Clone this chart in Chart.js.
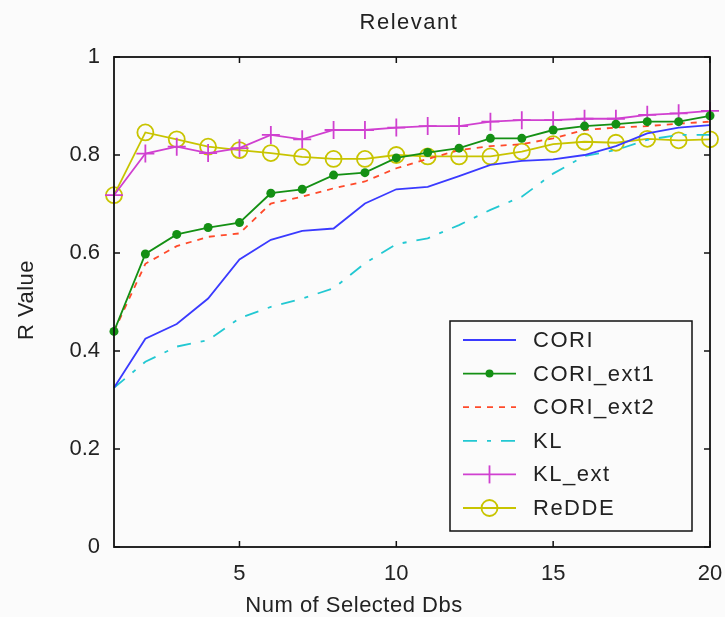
<!DOCTYPE html>
<html>
<head>
<meta charset="utf-8">
<script src="https://cdn.jsdelivr.net/npm/chart.js@4/dist/chart.umd.min.js"></script>
<style>
  html, body { margin: 0; padding: 0; background: #fbfbfb; }
  #wrap { width: 725px; height: 617px; }
</style>
</head>
<body>
<div id="wrap"><canvas id="relChart" width="725" height="617"></canvas></div>
<script>
(function () {
    'use strict';

    // x: number of selected databases
    var numDbs = [1, 2, 3, 4, 5, 6, 7, 8, 9, 10, 11, 12, 13, 14, 15, 16, 17, 18, 19, 20];

    var cori     = [0.325, 0.425, 0.455, 0.507, 0.587, 0.627, 0.645, 0.650, 0.701, 0.730, 0.735, 0.757, 0.780, 0.788, 0.791, 0.800, 0.818, 0.844, 0.856, 0.861];
    var coriExt1 = [0.440, 0.598, 0.638, 0.652, 0.662, 0.722, 0.730, 0.759, 0.764, 0.794, 0.805, 0.814, 0.834, 0.834, 0.851, 0.859, 0.863, 0.868, 0.868, 0.880];
    var coriExt2 = [0.440, 0.578, 0.614, 0.633, 0.640, 0.701, 0.715, 0.732, 0.746, 0.773, 0.792, 0.810, 0.818, 0.822, 0.834, 0.851, 0.856, 0.859, 0.864, 0.868];
    var kl       = [0.325, 0.378, 0.409, 0.422, 0.467, 0.490, 0.507, 0.528, 0.579, 0.618, 0.630, 0.657, 0.688, 0.715, 0.762, 0.798, 0.810, 0.831, 0.841, 0.841];
    var klExt    = [0.718, 0.803, 0.817, 0.804, 0.814, 0.841, 0.832, 0.851, 0.851, 0.856, 0.859, 0.859, 0.868, 0.871, 0.871, 0.874, 0.874, 0.882, 0.885, 0.890];
    var redde    = [0.718, 0.846, 0.832, 0.817, 0.810, 0.804, 0.796, 0.792, 0.792, 0.800, 0.797, 0.797, 0.797, 0.807, 0.822, 0.827, 0.825, 0.833, 0.830, 0.832];

    var xTicks = [5, 10, 15, 20];
    var yTicks = [0, 0.2, 0.4, 0.6, 0.8, 1];

    var FONT = 'Liberation Sans, Arial, sans-serif';

    function pts(ys) {
        return ys.map(function (y, i) { return { x: numDbs[i], y: y }; });
    }

    function series(label, ys, color, extra) {
        var ds = {
            label: label,
            data: pts(ys),
            borderColor: color,
            backgroundColor: color,
            borderWidth: 1.8,
            pointRadius: 0,
            pointHoverRadius: 0,
            tension: 0,
            clip: false
        };
        for (var k in extra) ds[k] = extra[k];
        return ds;
    }

    // frame, inward ticks, titles and legend box like the original figure
    var figurePlugin = {
        id: 'figure',
        beforeDraw: function (chart) {
            var ctx = chart.ctx;
            ctx.save();
            ctx.fillStyle = '#fbfbfb';
            ctx.fillRect(0, 0, chart.width, chart.height);
            ctx.restore();
        },
        afterDraw: function (chart) {
            var ctx = chart.ctx;
            var a = chart.chartArea;
            var xs = chart.scales.x, ys = chart.scales.y;
            ctx.save();
            ctx.strokeStyle = '#111';
            ctx.lineWidth = 1.8;
            ctx.strokeRect(a.left, a.top, a.right - a.left, a.bottom - a.top);

            ctx.lineWidth = 1.5;
            xTicks.forEach(function (v) {
                var px = xs.getPixelForValue(v);
                ctx.beginPath();
                ctx.moveTo(px, a.bottom); ctx.lineTo(px, a.bottom - 6);
                ctx.moveTo(px, a.top); ctx.lineTo(px, a.top + 6);
                ctx.stroke();
            });
            yTicks.forEach(function (v) {
                var py = ys.getPixelForValue(v);
                ctx.beginPath();
                ctx.moveTo(a.left, py); ctx.lineTo(a.left + 6, py);
                ctx.moveTo(a.right, py); ctx.lineTo(a.right - 6, py);
                ctx.stroke();
            });

            ctx.fillStyle = '#222';
            ctx.textAlign = 'center';
            ctx.textBaseline = 'middle';
            ctx.font = '22px ' + FONT;
            ctx.letterSpacing = '1.5px';
            ctx.fillText('Relevant', 409, 23);
            ctx.letterSpacing = '0.5px';
            ctx.fillText('Num of Selected Dbs', 354, 606);
            ctx.save();
            ctx.translate(27, 300);
            ctx.rotate(-Math.PI / 2);
            ctx.fillText('R Value', 0, 0);
            ctx.restore();

            // legend
            var bx = 450, by = 321, bw = 242, bh = 210;
            ctx.fillStyle = '#fbfbfb';
            ctx.fillRect(bx, by, bw, bh);
            ctx.strokeStyle = '#111';
            ctx.lineWidth = 1.5;
            ctx.strokeRect(bx, by, bw, bh);
            ctx.font = '22px ' + FONT;
            ctx.letterSpacing = '1.5px';
            ctx.textAlign = 'left';
            chart.data.datasets.forEach(function (ds, i) {
                var y = 340 + i * 33.6;
                var x0 = 463, x1 = 516, xm = (x0 + x1) / 2;
                ctx.strokeStyle = ds.borderColor;
                ctx.lineWidth = ds.borderWidth;
                ctx.setLineDash(ds.borderDash || []);
                ctx.beginPath();
                ctx.moveTo(x0, y); ctx.lineTo(x1, y);
                ctx.stroke();
                ctx.setLineDash([]);
                if (ds.pointStyle === 'circle' && ds.pointBackgroundColor !== 'transparent') {
                    ctx.fillStyle = ds.borderColor;
                    ctx.beginPath(); ctx.arc(xm, y, 4, 0, Math.PI * 2); ctx.fill();
                } else if (ds.pointStyle === 'circle') {
                    ctx.beginPath(); ctx.arc(xm, y, 8, 0, Math.PI * 2); ctx.stroke();
                } else if (ds.pointStyle === 'cross') {
                    ctx.beginPath(); ctx.moveTo(xm, y - 9); ctx.lineTo(xm, y + 9); ctx.stroke();
                }
                ctx.fillStyle = '#222';
                ctx.fillText(ds.label, 533, y + 1);
            });
            ctx.restore();
        }
    };

    var ctx = document.getElementById('relChart').getContext('2d');
    new Chart(ctx, {
        type: 'line',
        data: {
            datasets: [
                series('CORI', cori, '#3a3aff', {}),
                series('CORI_ext1', coriExt1, '#149014', {
                    pointStyle: 'circle', pointRadius: 4.5, pointBackgroundColor: '#149014', pointBorderWidth: 0
                }),
                series('CORI_ext2', coriExt2, '#ff4a2a', { borderDash: [6, 6] }),
                series('KL', kl, '#22c8d2', { borderDash: [14, 10, 4, 10] }),
                series('KL_ext', klExt, '#d040d0', {
                    pointStyle: 'cross', pointRadius: 9, pointBorderWidth: 1.8
                }),
                series('ReDDE', redde, '#c8c400', {
                    pointStyle: 'circle', pointRadius: 8, pointBackgroundColor: 'transparent', pointBorderWidth: 1.8
                })
            ]
        },
        options: {
            responsive: false,
            animation: false,
            layout: { padding: { top: 57, right: 15, left: 0, bottom: 0 } },
            plugins: {
                legend: { display: false },
                title: { display: false },
                tooltip: { enabled: false }
            },
            scales: {
                x: {
                    type: 'linear', min: 1, max: 20,
                    afterFit: function (s) { s.height = 70; s.paddingLeft = 0; s.paddingRight = 0; },
                    afterBuildTicks: function (s) { s.ticks = xTicks.map(function (v) { return { value: v }; }); },
                    grid: { display: false, drawTicks: false },
                    border: { display: false },
                    ticks: { color: '#222', font: { family: FONT, size: 22 }, padding: 14, maxRotation: 0 }
                },
                y: {
                    type: 'linear', min: 0, max: 1,
                    afterFit: function (s) { s.width = 114; s.paddingTop = 0; s.paddingBottom = 0; },
                    afterBuildTicks: function (s) { s.ticks = yTicks.map(function (v) { return { value: v }; }); },
                    grid: { display: false, drawTicks: false },
                    border: { display: false },
                    ticks: {
                        color: '#222', font: { family: FONT, size: 22 }, padding: 14,
                        callback: function (v) { return String(v); }
                    }
                }
            }
        },
        plugins: [figurePlugin]
    });
})();
</script>
</body>
</html>
